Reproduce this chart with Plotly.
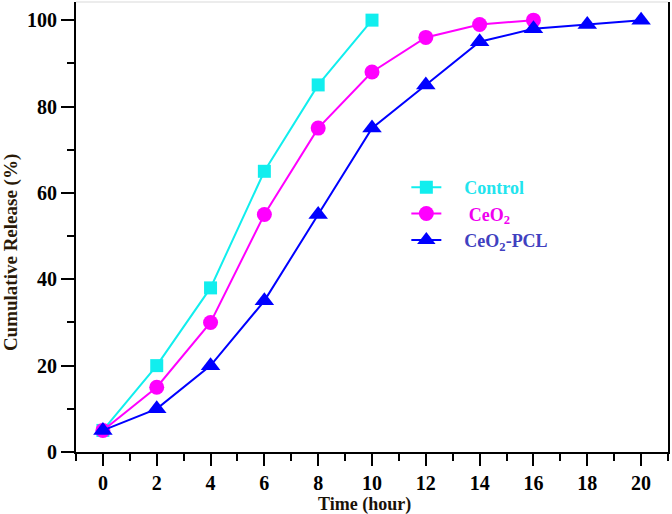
import plotly.graph_objects as go

time_control = [0, 2, 4, 6, 8, 10]
release_control = [5, 20, 38, 65, 85, 100]

time_ceo2 = [0, 2, 4, 6, 8, 10, 12, 14, 16]
release_ceo2 = [5, 15, 30, 55, 75, 88, 96, 99, 100]

time_pcl = [0, 2, 4, 6, 8, 10, 12, 14, 16, 18, 20]
release_pcl = [5, 10, 20, 35, 55, 75, 85, 95, 98, 99, 100]

x_ticks = [0, 2, 4, 6, 8, 10, 12, 14, 16, 18, 20]
y_ticks = [0, 20, 40, 60, 80, 100]

FONT = "Liberation Serif, Times New Roman, serif"
PAD = "&nbsp;" * 4

fig = go.Figure()
fig.add_trace(go.Scatter(
    x=time_control, y=release_control, mode="lines+markers",
    name=f"{PAD}<span style='color:#22E4EE'><b>Control</b></span>",
    line=dict(color="#11EEEE", width=2),
    marker=dict(symbol="square", size=13, color="#11EEEE"),
))
fig.add_trace(go.Scatter(
    x=time_ceo2, y=release_ceo2, mode="lines+markers",
    name=f"{PAD}<span style='color:#F000F0'><b> CeO<sub>2</sub></b></span>",
    line=dict(color="#FF00FF", width=2),
    marker=dict(symbol="circle", size=15, color="#FF00FF"),
))
fig.add_trace(go.Scatter(
    x=time_pcl, y=release_pcl, mode="lines+markers",
    name=f"{PAD}<span style='color:#4040C0'><b>CeO<sub>2</sub>-PCL</b></span>",
    line=dict(color="#0000FF", width=2),
    marker=dict(symbol="triangle-up", size=17, color="#0000FF"),
))

fig.update_layout(
    width=672, height=514,
    margin=dict(l=76, r=4, t=2, b=62, autoexpand=False),
    paper_bgcolor="white", plot_bgcolor="white",
    font=dict(family=FONT, color="black"),
    showlegend=True,
    legend=dict(x=0.558, y=0.529, xanchor="left", yanchor="middle",
                font=dict(family=FONT, size=18), bgcolor="rgba(0,0,0,0)",
                tracegroupgap=4),
    xaxis=dict(
        range=[-1, 21], tickvals=x_ticks, ticktext=[f"<b>{t}</b>" for t in x_ticks],
        ticks="outside", ticklen=12, tickwidth=2, automargin=False,
        tickcolor="black", showline=True, linecolor="black", linewidth=2,
        showgrid=False, zeroline=False,
        tickfont=dict(family=FONT, size=20, color="black"),
        minor=dict(dtick=1, tick0=1, ticks="outside", ticklen=7, tickwidth=2, tickcolor="black"),
    ),
    yaxis=dict(
        range=[0, 104.2], tickvals=y_ticks, ticktext=[f"<b>{t}</b>" for t in y_ticks],
        ticks="outside", ticklen=13, tickwidth=2, automargin=False,
        tickcolor="black", showline=True, linecolor="black", linewidth=2,
        mirror=True,
        showgrid=False, zeroline=False,
        tickfont=dict(family=FONT, size=20, color="black"),
        minor=dict(dtick=10, tick0=10, ticks="outside", ticklen=7, tickwidth=2, tickcolor="black"),
    ),
    shapes=[dict(type="line", xref="paper", yref="paper", x0=0, x1=1, y0=1, y1=1,
                 line=dict(color="#e6e6e6", width=1.5))],
    annotations=[
        dict(text="<b>Time (hour)</b>", xref="paper", yref="paper", x=0.488, y=0,
             xanchor="center", yanchor="middle", yshift=-52, showarrow=False,
             font=dict(family=FONT, size=18, color="#1a1208")),
        dict(text="<b>Cumulative Release (%)</b>", xref="paper", yref="paper", x=0, y=0.442,
             xanchor="center", yanchor="middle", xshift=-65, textangle=-90, showarrow=False,
             font=dict(family=FONT, size=19, color="#2a1a08")),
    ],
)

fig.write_html("out.html", config={"displayModeBar": False},
               post_script="document.body.style.margin='0';document.body.style.padding='0';")
